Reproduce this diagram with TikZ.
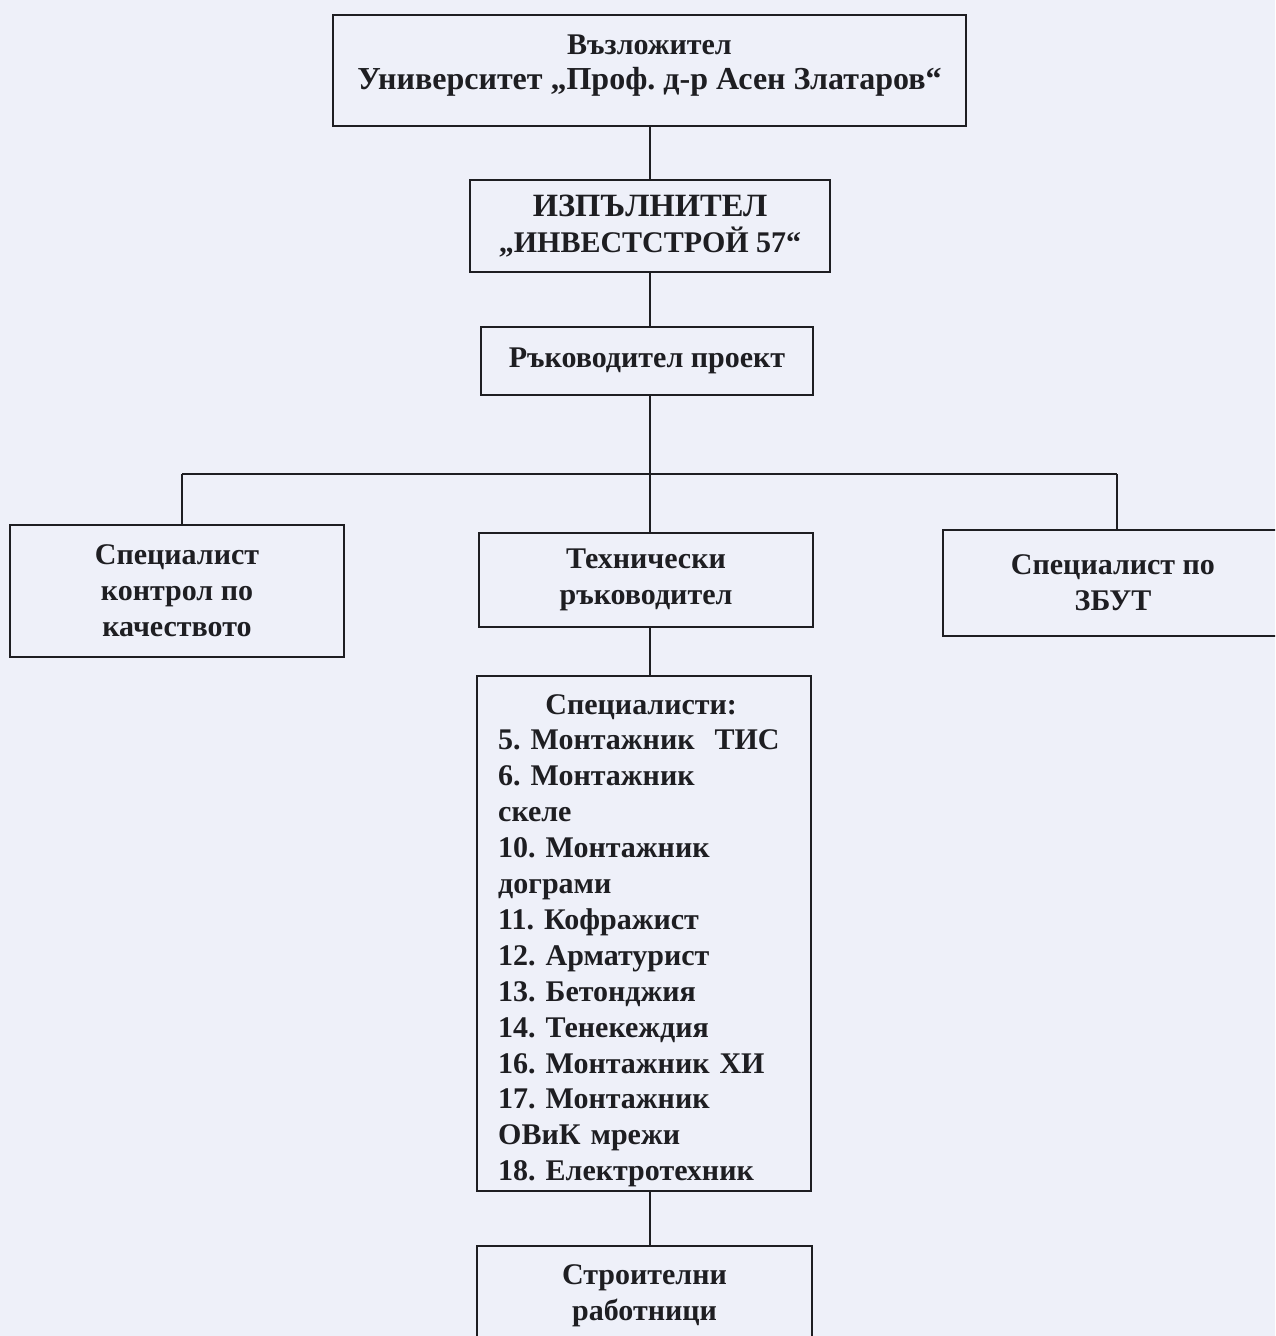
\documentclass[tikz,border=0pt]{standalone}
\usepackage{fontspec}
\setmainfont{Liberation Serif}
\definecolor{paper}{RGB}{238,240,249}
\definecolor{ink}{RGB}{30,30,34}
\begin{document}
\frenchspacing
\begin{tikzpicture}[x=1pt,y=-1pt,
  box/.style={draw=ink,line width=1.5pt,inner sep=0pt,align=center,
    font=\bfseries\fontsize{30}{36}\selectfont,text=ink},
  label/.style={inner sep=0pt,align=center,text=ink},
  conn/.style={draw=ink,line width=1.5pt}]
\fill[paper] (0,0) rectangle (1275,1336);
\useasboundingbox (0,0) rectangle (1275,1336);
\clip (0,0) rectangle (1275,1336);
\node[box,minimum width=633pt,minimum height=111pt] (b1) at (649.5,70.5) {};
\node[label,font=\bfseries\fontsize{30}{35}\selectfont] (b1text) at (649.5,66)
  {Възложител\\{\fontsize{32}{35}\selectfont Университет „Проф. д-р Асен Златаров“}};
\node[box,minimum width=360pt,minimum height=92pt] (b2) at (650,226)
  {{\fontsize{32.5}{36}\selectfont ИЗПЪЛНИТЕЛ}\\„ИНВЕСТСТРОЙ 57“};
\node[box,minimum width=332pt,minimum height=68pt] (b3) at (647,361)
  {Ръководител проект};
\node[box,minimum width=334pt,minimum height=132pt] (left) at (177,591)
  {Специалист\\контрол по\\качеството};
\node[box,minimum width=334pt,minimum height=94pt] (mid) at (646,580)
  {Технически\\ръководител};
\node[box,minimum width=340pt,minimum height=106pt] (right) at (1113,583)
  {Специалист по\\ЗБУТ};
\node[box,minimum width=334pt,minimum height=515pt] (spec) at (644,933.5) {};
\node[label,font=\bfseries\fontsize{30}{35.9}\selectfont,align=left,
  text width=310pt,anchor=north west] (spectext) at (498,694)
  {\makebox[286pt]{Специалисти:}\\
   5. Монтажник\ \ ТИС\\
   6. Монтажник\\
   скеле\\
   10. Монтажник\\
   дограми\\
   11. Кофражист\\
   12. Арматурист\\
   13. Бетонджия\\
   14. Тенекеждия\\
   16. Монтажник ХИ\\
   17. Монтажник\\
   ОВиК мрежи\\
   18. Електротехник};
\node[box,minimum width=335pt,minimum height=100pt,anchor=north] (bot) at (644.5,1245)
  {Строителни\\работници};
\coordinate (spine) at (650,0);
\coordinate (busL) at (182,474);
\coordinate (busR) at (1117,474);
\draw[conn] (b1.south -| spine) -- (b2.north -| spine);
\draw[conn] (b2.south -| spine) -- (b3.north -| spine);
\draw[conn] (b3.south -| spine) -- (mid.north -| spine);
\draw[conn] (busL) -- (busR);
\draw[conn] (busL) -- (left.north -| busL);
\draw[conn] (busR) -- (right.north -| busR);
\draw[conn] (mid.south -| spine) -- (spec.north -| spine);
\draw[conn] (spec.south -| spine) -- (bot.north -| spine);
\end{tikzpicture}
\end{document}
